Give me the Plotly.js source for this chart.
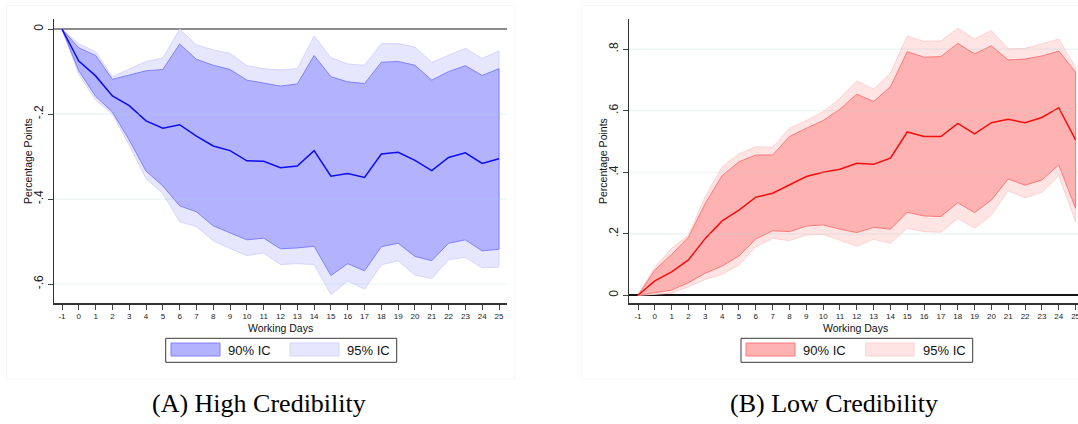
<!DOCTYPE html>
<html>
<head>
<meta charset="utf-8">
<script src="https://cdn.plot.ly/plotly-3.0.1.min.js"></script>
<style>
  html, body { margin: 0; padding: 0; background: #ffffff; }
  #chart { width: 1078px; height: 424px; }
</style>
</head>
<body>
<div id="chart"></div>
<script>
// ---------- Data ----------
const days = [-1, 0, 1, 2, 3, 4, 5, 6, 7, 8, 9, 10, 11, 12, 13, 14, 15, 16, 17, 18, 19, 20, 21, 22, 23, 24, 25];

// (A) High Credibility
const hiPoint = [0, -0.075, -0.11, -0.157, -0.18, -0.216, -0.233, -0.225, -0.252, -0.275, -0.286, -0.31, -0.311, -0.326, -0.322, -0.286, -0.346, -0.34, -0.349, -0.294, -0.29, -0.309, -0.333, -0.302, -0.291, -0.316, -0.305];
const hiUp90 = [0, -0.044, -0.062, -0.118, -0.108, -0.098, -0.095, -0.035, -0.071, -0.085, -0.095, -0.12, -0.127, -0.134, -0.129, -0.062, -0.112, -0.124, -0.128, -0.078, -0.076, -0.085, -0.12, -0.1, -0.086, -0.109, -0.093];
const hiLo90 = [0, -0.098, -0.158, -0.195, -0.261, -0.334, -0.369, -0.416, -0.43, -0.463, -0.479, -0.496, -0.492, -0.517, -0.515, -0.511, -0.58, -0.552, -0.569, -0.512, -0.504, -0.535, -0.545, -0.504, -0.496, -0.522, -0.518];
const hiUp95 = [0, -0.035, -0.053, -0.112, -0.094, -0.076, -0.068, 0.0, -0.037, -0.049, -0.057, -0.086, -0.093, -0.096, -0.093, -0.016, -0.067, -0.082, -0.085, -0.034, -0.034, -0.042, -0.078, -0.061, -0.045, -0.069, -0.051];
const hiLo95 = [0, -0.106, -0.167, -0.2, -0.273, -0.352, -0.387, -0.453, -0.465, -0.498, -0.516, -0.533, -0.527, -0.554, -0.552, -0.554, -0.625, -0.593, -0.612, -0.555, -0.545, -0.579, -0.587, -0.543, -0.537, -0.562, -0.56];

// (B) Low Credibility
const loPoint = [0, 0.047, 0.076, 0.115, 0.185, 0.242, 0.277, 0.319, 0.332, 0.359, 0.386, 0.4, 0.41, 0.429, 0.426, 0.446, 0.531, 0.516, 0.516, 0.559, 0.525, 0.561, 0.572, 0.561, 0.578, 0.61, 0.505];
const loUp90 = [0, 0.082, 0.133, 0.189, 0.299, 0.389, 0.434, 0.456, 0.456, 0.516, 0.543, 0.568, 0.605, 0.654, 0.63, 0.678, 0.792, 0.774, 0.776, 0.819, 0.785, 0.811, 0.765, 0.768, 0.778, 0.794, 0.725];
const loLo90 = [0, 0.009, 0.017, 0.041, 0.072, 0.095, 0.128, 0.183, 0.21, 0.207, 0.225, 0.229, 0.215, 0.204, 0.221, 0.215, 0.27, 0.258, 0.256, 0.301, 0.269, 0.31, 0.378, 0.358, 0.375, 0.424, 0.283];
const loUp95 = [0, 0.091, 0.153, 0.196, 0.321, 0.418, 0.46, 0.483, 0.481, 0.543, 0.568, 0.597, 0.64, 0.697, 0.67, 0.722, 0.843, 0.825, 0.827, 0.868, 0.833, 0.861, 0.801, 0.803, 0.817, 0.833, 0.74];
const loLo95 = [0, 0.003, 0.007, 0.028, 0.052, 0.068, 0.099, 0.158, 0.185, 0.178, 0.196, 0.198, 0.18, 0.16, 0.182, 0.169, 0.218, 0.207, 0.205, 0.25, 0.218, 0.261, 0.34, 0.317, 0.335, 0.389, 0.239];

const hiTickVals = [0, -0.2, -0.4, -0.6];
const hiTickText = ["0", "-.2", "-.4", "-.6"];
const loTickVals = [0, 0.2, 0.4, 0.6, 0.8];
const loTickText = ["0", ".2", ".4", ".6", ".8"];
const legendLabels = ["90% IC", "95% IC"];
const captions = ["(A) High Credibility", "(B) Low Credibility"];
const xTitle = "Working Days";
const yTitle = "Percentage Points";

// ---------- Styles ----------
const W = 1078, H = 424;
const px = v => v / W;
const py = v => 1 - v / H;

const blue = { c95: "rgb(230,230,255)", e95: "rgb(212,212,255)", c90: "rgb(178,178,255)", e90: "rgb(128,128,255)", line: "rgb(12,12,240)" };
const red = { c95: "rgb(255,228,228)", e95: "rgb(255,208,208)", c90: "rgb(255,178,178)", e90: "rgb(255,120,120)", line: "rgb(245,15,15)" };

function band(xs, up, lo, fill, edge, xa, ya) {
  const x = xs.concat(xs.slice().reverse());
  const y = up.concat(lo.slice().reverse());
  return { type: "scatter", mode: "lines", x: x, y: y, fill: "toself", fillcolor: fill,
           line: { color: edge, width: 1 }, xaxis: xa, yaxis: ya, hoverinfo: "skip", showlegend: false };
}
function pointLine(xs, ys, color, xa, ya) {
  return { type: "scatter", mode: "lines", x: xs, y: ys, line: { color: color, width: 1.5 },
           xaxis: xa, yaxis: ya, showlegend: false };
}

const traces = [
  band(days, hiUp95, hiLo95, blue.c95, blue.e95, "x", "y"),
  band(days, hiUp90, hiLo90, blue.c90, blue.e90, "x", "y"),
  pointLine(days, hiPoint, blue.line, "x", "y"),
  band(days, loUp95, loLo95, red.c95, red.e95, "x2", "y2"),
  band(days, loUp90, loLo90, red.c90, red.e90, "x2", "y2"),
  pointLine(days, loPoint, red.line, "x2", "y2")
];

const tickFontY = { family: "Liberation Sans, Arial, sans-serif", size: 12, color: "#222" };
const tickFontX = { family: "Liberation Sans, Arial, sans-serif", size: 8, color: "#222" };

function xaxis(domain, range) {
  return { domain: domain, range: range, tickmode: "array", tickvals: days, ticktext: days.map(String),
           ticks: "outside", ticklen: 5, tickcolor: "#444", tickwidth: 1, tickfont: tickFontX,
           showline: true, linecolor: "#333", linewidth: 1.3, showgrid: false, zeroline: false,
           fixedrange: true, tickangle: 0, ticklabeloverflow: "allow" };
}
function yaxis(domain, range, vals, text, zlColor, zlWidth, anchor) {
  return { domain: domain, range: range, tickmode: "array", tickvals: vals, ticktext: text,
           ticks: "outside", ticklen: 5, tickcolor: "#444", tickwidth: 1, tickfont: tickFontY,
           tickangle: -90, showline: true, linecolor: "#333", linewidth: 1.3, showgrid: false,
           zeroline: true, zerolinecolor: zlColor, zerolinewidth: zlWidth, anchor: anchor, fixedrange: true };
}

const yDom = [py(303.3), py(19.2)];

const shapes = [];
const annotations = [];

// light grid lines drawn above the bands
hiTickVals.filter(v => v !== 0).forEach(v => shapes.push({ type: "line", xref: "x domain", yref: "y", x0: 0, x1: 1, y0: v, y1: v,
  line: { color: "rgba(175,210,210,0.3)", width: 1.2 }, layer: "above" }));
loTickVals.filter(v => v !== 0).forEach(v => shapes.push({ type: "line", xref: "x2 domain", yref: "y2", x0: 0, x1: 1, y0: v, y1: v,
  line: { color: "rgba(175,210,210,0.3)", width: 1.2 }, layer: "above" }));

// faint graph-region frames
shapes.push({ type: "rect", xref: "paper", yref: "paper", x0: px(6.5), x1: px(515), y0: py(379), y1: py(5.5), line: { color: "rgb(247,247,247)", width: 1 }, layer: "below" });
shapes.push({ type: "rect", xref: "paper", yref: "paper", x0: px(581.5), x1: px(1090), y0: py(379), y1: py(5.5), line: { color: "rgb(247,247,247)", width: 1 }, layer: "below" });

// legends
function legendBox(box, sw1, sw2, t1, t2, pal) {
  shapes.push({ type: "rect", xref: "paper", yref: "paper", x0: px(box[0]), x1: px(box[1]), y0: py(362.3), y1: py(338.3),
                line: { color: "#3a3a3a", width: 1 }, fillcolor: "#ffffff" });
  shapes.push({ type: "rect", xref: "paper", yref: "paper", x0: px(sw1[0]), x1: px(sw1[1]), y0: py(356), y1: py(343),
                line: { color: pal.e90, width: 1 }, fillcolor: pal.c90 });
  shapes.push({ type: "rect", xref: "paper", yref: "paper", x0: px(sw2[0]), x1: px(sw2[1]), y0: py(356), y1: py(343),
                line: { color: pal.e95, width: 1 }, fillcolor: pal.c95 });
  const f = { family: "Liberation Sans, Arial, sans-serif", size: 13, color: "#111" };
  annotations.push({ xref: "paper", yref: "paper", x: px(t1), y: py(350), xanchor: "left", yanchor: "middle", text: legendLabels[0], showarrow: false, font: f });
  annotations.push({ xref: "paper", yref: "paper", x: px(t2), y: py(350), xanchor: "left", yanchor: "middle", text: legendLabels[1], showarrow: false, font: f });
}
legendBox([165.7, 396.7], [171, 220], [290, 339], 226, 345, blue);
legendBox([741, 972.7], [746, 795], [865.7, 914], 801, 920.5, red);

// axis titles
const titleFont = { family: "Liberation Sans, Arial, sans-serif", size: 10.5, color: "#111" };
annotations.push({ xref: "paper", yref: "paper", x: px(280.5), y: py(321), text: xTitle, showarrow: false, font: titleFont, xanchor: "center", yanchor: "top", borderpad: 0 });
annotations.push({ xref: "paper", yref: "paper", x: px(855.7), y: py(321), text: xTitle, showarrow: false, font: titleFont, xanchor: "center", yanchor: "top", borderpad: 0 });
annotations.push({ xref: "paper", yref: "paper", x: px(28), y: py(161), text: yTitle, textangle: -90, showarrow: false, font: titleFont, xanchor: "center", yanchor: "middle" });
annotations.push({ xref: "paper", yref: "paper", x: px(603), y: py(161), text: yTitle, textangle: -90, showarrow: false, font: titleFont, xanchor: "center", yanchor: "middle" });

// captions
const capFont = { family: "Liberation Serif, Times New Roman, serif", size: 26, color: "#000" };
annotations.push({ xref: "paper", yref: "paper", x: px(259), y: py(403), text: captions[0], showarrow: false, font: capFont, xanchor: "center", yanchor: "middle" });
annotations.push({ xref: "paper", yref: "paper", x: px(834.3), y: py(403), text: captions[1], showarrow: false, font: capFont, xanchor: "center", yanchor: "middle" });

const layout = {
  width: W, height: H,
  margin: { l: 0, r: 0, t: 0, b: 0, pad: 0 },
  paper_bgcolor: "#ffffff", plot_bgcolor: "#ffffff",
  showlegend: false,
  xaxis: xaxis([px(54), px(507)], [-1.476, 25.476]),
  yaxis: yaxis(yDom, [-0.6454, 0.0235], hiTickVals, hiTickText, "rgb(140,140,140)", 2, "x"),
  xaxis2: Object.assign(xaxis([px(629.3), 1], [-1.517, 25.144]), { anchor: "y2" }),
  yaxis2: yaxis(yDom, [-0.026, 0.8976], loTickVals, loTickText, "rgb(20,20,20)", 1.6, "x2"),
  shapes: shapes,
  annotations: annotations
};

Plotly.newPlot("chart", traces, layout, { staticPlot: true, displayModeBar: false });
</script>
</body>
</html>
